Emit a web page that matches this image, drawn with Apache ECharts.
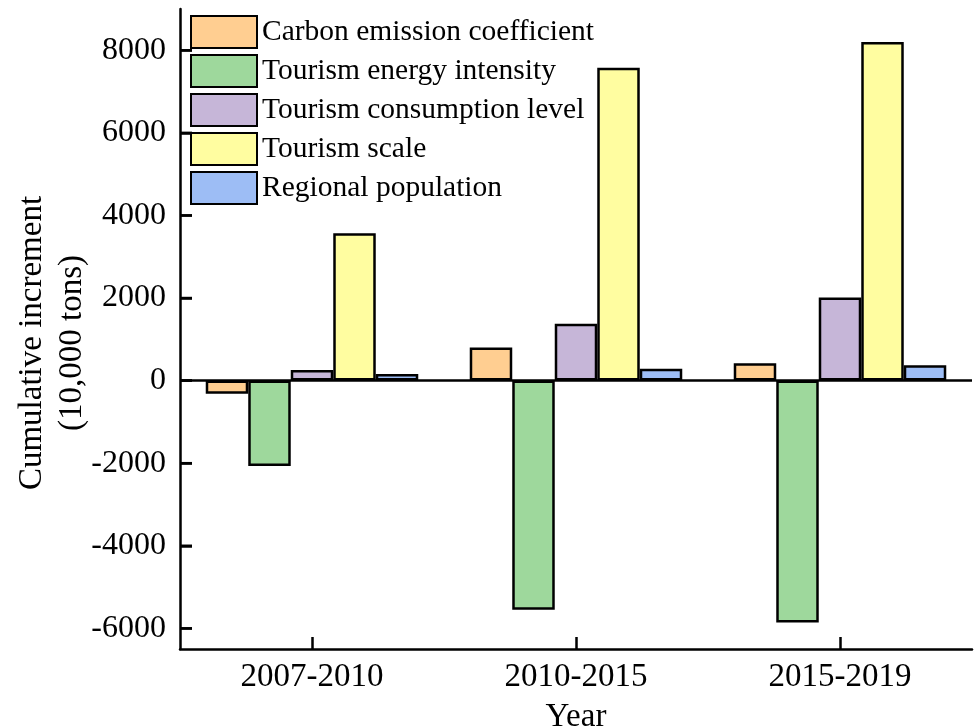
<!DOCTYPE html>
<html>
<head>
<meta charset="utf-8">
<script src="https://cdn.jsdelivr.net/npm/echarts@6/dist/echarts.min.js"></script>
<style>html,body{margin:0;padding:0;background:#fff}#c{width:974px;height:726px}</style>
</head>
<body>
<div id="c"></div>
<script>
var categories = ['2007-2010', '2010-2015', '2015-2019'];
var seriesNames = ['Carbon emission coefficient', 'Tourism energy intensity', 'Tourism consumption level', 'Tourism scale', 'Regional population'];
var carbonEmission = [-320, 800, 420];
var energyIntensity = [-2070, -5550, -5860];
var consumptionLevel = [260, 1380, 2010];
var tourismScale = [3570, 7580, 8200];
var regionalPopulation = [160, 290, 370];
var yTicks = [-6000, -4000, -2000, 0, 2000, 4000, 6000, 8000];
var colors = ['#FFCE91', '#9ED89C', '#C6B6D8', '#FFFDA0', '#9DBDF5'];
var allValues = [carbonEmission, energyIntensity, consumptionLevel, tourismScale, regionalPopulation];

var font = 'Liberation Serif';
var series = allValues.map(function (vals, i) {
  var s = {
    name: seriesNames[i],
    type: 'bar',
    data: vals,
    barGap: '0%',
    barCategoryGap: '19.5%',
    itemStyle: { color: colors[i], borderColor: '#000', borderWidth: 2.5 }
  };
  if (i === 0) {
    s.markLine = {
      silent: true,
      symbol: 'none',
      label: { show: false },
      lineStyle: { color: '#000', width: 2.5, type: 'solid' },
      data: [{ yAxis: 0 }]
    };
  }
  return s;
});

// y-axis tick marks drawn through the axis scales (custom series)
series.push({
  name: 'yTickMarks',
  type: 'custom',
  silent: true,
  clip: false,
  z: 10,
  data: yTicks.map(function (v) { return [0, v]; }),
  encode: { x: 0, y: 1 },
  renderItem: function (params, api) {
    var p = api.coord([api.value(0), api.value(1)]);
    var band = api.size([1, 0])[0];
    var x0 = p[0] - band / 2;
    return {
      type: 'line',
      shape: { x1: x0, y1: p[1], x2: x0 + 12, y2: p[1] },
      style: { stroke: '#000', lineWidth: 2.5, fill: null }
    };
  }
});

var chart = echarts.init(document.getElementById('c'));
chart.setOption({
  animation: false,
  backgroundColor: '#fff',
  grid: { left: 180, right: 2, top: 9, bottom: 77, containLabel: false, outerBoundsMode: 'none' },
  legend: {
    orient: 'vertical',
    left: 190,
    top: 15,
    padding: 0,
    itemWidth: 66,
    itemHeight: 32,
    itemGap: 5,
    icon: 'rect',
    textStyle: { fontFamily: font, fontSize: 29.5, lineHeight: 30, color: '#000' },
    data: seriesNames
  },
  xAxis: {
    type: 'category',
    data: categories,
    name: 'Year',
    nameLocation: 'middle',
    nameGap: 52,
    nameMoveOverlap: false,
    nameTextStyle: { fontFamily: font, fontSize: 33, color: '#000' },
    axisLine: { show: true, onZero: false, lineStyle: { color: '#000', width: 2.5 } },
    axisTick: { show: true, alignWithLabel: true, inside: true, length: 12, lineStyle: { color: '#000', width: 2.5 } },
    axisLabel: { fontFamily: font, fontSize: 33, color: '#000', margin: 12 },
    splitLine: { show: false }
  },
  yAxis: {
    type: 'value',
    min: -6500,
    max: 9000,
    name: 'Cumulative increment\n(10,000 tons)',
    nameLocation: 'middle',
    nameGap: 88,
    nameMoveOverlap: false,
    nameRotate: 90,
    nameTextStyle: { fontFamily: font, fontSize: 33, color: '#000', lineHeight: 40, padding: [0, 28, 0, 0] },
    axisLine: { show: true, onZero: false, lineStyle: { color: '#000', width: 2.5 } },
    axisTick: { show: true, inside: true, length: 12, customValues: yTicks, lineStyle: { color: '#000', width: 2.5, type: 'solid' } },
    axisLabel: { show: true, fontFamily: font, fontSize: 32, color: '#000', margin: 14, customValues: yTicks, formatter: function (v) { return String(v); } },
    splitLine: { show: false }
  },
  series: series
});
</script>
</body>
</html>
